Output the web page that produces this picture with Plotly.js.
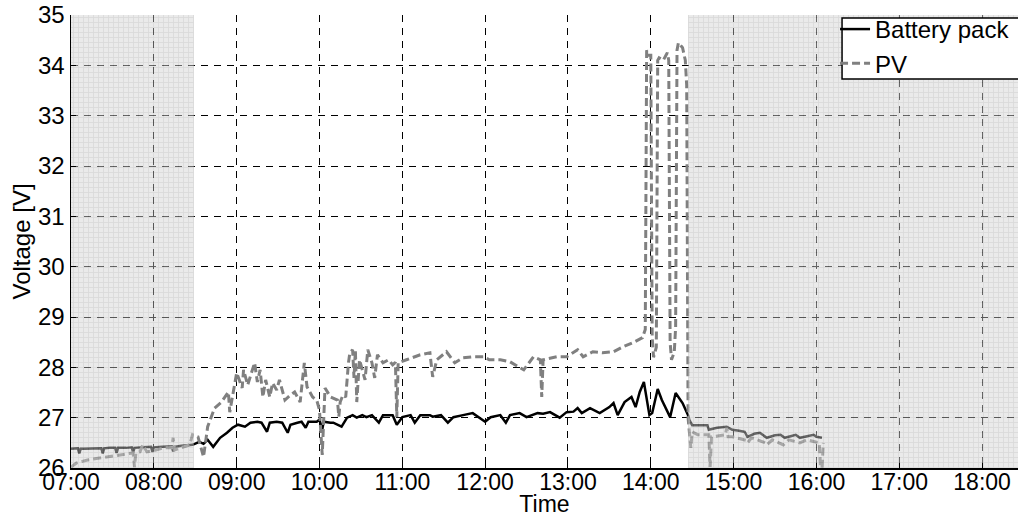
<!DOCTYPE html>
<html><head><meta charset="utf-8">
<script src="https://cdn.plot.ly/plotly-3.0.1.min.js"></script>
<style>html,body{margin:0;padding:0;background:#fff}</style>
</head><body>
<div id="chart" style="width:1018px;height:517px"></div>
<script>
const DAY = '2015-06-01 ';

const batteryTimes = ['07:00','07:05','07:06','07:07','07:10','07:15','07:20','07:22','07:23','07:24','07:28','07:32','07:33','07:34','07:40','07:44','07:45','07:46','07:52','07:58','07:59','08:00','08:06','08:13','08:14','08:15','08:20','08:25','08:28',
 '08:33','08:36','08:39','08:43','08:48','08:53','08:57','09:01','09:06','09:10','09:15','09:18','09:22','09:24','09:29','09:33','09:37','09:39','09:44','09:47','09:50','09:52','09:58','10:00','10:02','10:03','10:08','10:10','10:16','10:20','10:24','10:27','10:31','10:34','10:38','10:43','10:46','10:53','10:56','11:00','11:06','11:09','11:13','11:20','11:22','11:28','11:33','11:37','11:44','11:51','12:00','12:04','12:11','12:15','12:18','12:25','12:30','12:38','12:42','12:47','12:54','12:59','13:04','13:07','13:10','13:16','13:23','13:30','13:33','13:36','13:41','13:46','13:49','13:52','13:55','13:59','14:01','14:05','14:08','14:14','14:18','14:23','14:27',
 '14:28','14:30','14:35','14:41','14:42','14:48','14:55','14:59','15:04','15:08','15:10','15:15','15:19','15:24','15:30','15:34','15:37','15:42','15:45','15:48','15:54','15:58','16:00','16:04'];
const batteryVolts = [26.38,26.39,26.29,26.38,26.38,26.39,26.39,26.39,26.29,26.39,26.4,26.4,26.3,26.4,26.4,26.41,26.31,26.4,26.41,26.42,26.32,26.41,26.42,26.43,26.33,26.42,26.44,26.45,26.46,
 26.52,26.48,26.56,26.42,26.6,26.7,26.8,26.86,26.82,26.9,26.92,26.9,26.72,26.9,26.92,26.9,26.7,26.86,26.9,26.92,26.8,26.92,26.92,26.96,26.76,26.92,26.9,26.9,26.82,27.0,27.05,27.0,27.05,27.01,27.05,26.9,27.05,27.05,26.86,27.01,27.05,26.9,27.05,27.05,27.02,27.05,26.9,27.01,27.05,27.09,26.92,27.01,27.05,26.9,27.05,27.09,27.01,27.09,27.08,27.11,27.0,27.11,27.12,27.19,27.09,27.19,27.09,27.21,27.29,27.05,27.31,27.41,27.21,27.51,27.71,27.05,27.09,27.57,27.35,27.01,27.49,27.29,27.05,
 26.95,26.85,26.85,26.85,26.76,26.8,26.82,26.76,26.74,26.72,26.62,26.68,26.7,26.6,26.65,26.66,26.6,26.64,26.66,26.6,26.64,26.66,26.62,26.6];

const pvTimes = ['07:00','07:04','07:12','07:21','07:28','07:36','07:45','07:46','07:47','07:48','07:50','07:52','07:55','08:02','08:07','08:13','08:14','08:15','08:21','08:26','08:28',
 '08:32','08:36','08:39','08:44','08:49','08:54','08:55','09:00','09:04','09:05','09:08','09:13','09:15','09:17','09:19','09:21','09:24','09:26','09:29','09:31','09:35','09:39','09:42','09:46','09:49','09:51','09:55','09:58','10:00','10:02','10:04','10:08','10:13','10:14','10:15','10:17','10:19','10:21','10:22','10:24','10:25','10:26','10:27','10:29','10:33','10:35','10:38','10:40','10:42','10:46','10:50','10:53','10:55','10:56','10:57','11:03','11:13','11:20','11:22','11:25','11:32','11:38','11:44','11:51','11:59','12:03','12:11','12:18','12:28','12:35','12:40','12:41','12:42','12:52','12:59','13:07','13:11','13:18','13:25','13:33','13:40','13:47','13:54','13:56',
 '13:57','13:58','14:00','14:01','14:02','14:04','14:05','14:06','14:09','14:11','14:12','14:13','14:14','14:15','14:17','14:18','14:19','14:20','14:23','14:25','14:26','14:27',
 '14:28','14:29','14:30','14:34','14:42','14:43','14:44','14:54','14:55','14:56','14:59','15:09','15:10','15:13','15:23','15:24','15:28','15:35','15:36','15:40','15:47','15:48','15:53','16:00','16:02','16:03','16:04','16:05'];
const pvVolts = [26.02,26.1,26.16,26.2,26.22,26.26,26.3,26.02,26.3,26.3,26.32,26.46,26.32,26.36,26.4,26.4,26.6,26.36,26.42,26.46,26.66,
 26.62,26.22,26.82,27.19,27.31,27.51,27.11,27.89,27.59,27.95,27.65,28.09,27.71,27.95,27.41,27.75,27.41,27.69,27.55,27.75,27.35,27.45,27.51,27.31,28.09,27.61,27.41,27.35,27.15,26.26,27.59,27.41,27.35,27.02,27.31,27.45,27.41,28.09,28.29,28.35,27.79,28.35,27.31,28.15,27.75,28.35,28.09,27.79,28.25,28.09,28.15,28.05,28.1,27.01,28.09,28.15,28.25,28.29,27.81,28.15,28.31,28.09,28.19,28.21,28.21,28.15,28.15,28.11,27.95,28.21,28.15,27.41,28.15,28.21,28.21,28.35,28.21,28.31,28.29,28.31,28.41,28.49,28.59,28.75,
 34.3,34.2,34.2,28.6,28.2,28.4,34.1,34.15,34.1,34.2,34.25,34.1,28.5,28.15,28.3,28.8,34.3,34.45,34.35,34.1,33.6,27.0,
 26.6,26.4,26.72,26.66,26.66,26.02,26.62,26.66,26.8,26.62,26.62,26.55,26.5,26.6,26.5,26.46,26.56,26.48,26.46,26.56,26.5,26.5,26.56,26.52,26.5,26.02,26.0,26.5];

const shadeStart = ['07:00','14:27'];
const shadeEnd   = ['08:29','18:30'];
const hourTicks = ['07:00','08:00','09:00','10:00','11:00','12:00','13:00','14:00','15:00','16:00','17:00','18:00'];

const ms = t => Date.parse('2015-06-01T' + t + ':00Z');
const FONT = 'Liberation Sans, Arial, Helvetica, sans-serif';
const DASH = '7px,6px';

const traces = [
  {x: batteryTimes.map(t => DAY + t), y: batteryVolts, type: 'scatter', mode: 'lines', name: 'Battery pack',
   line: {color: '#000000', width: 2.5}, hoverinfo: 'skip'},
  {x: pvTimes.map(t => DAY + t), y: pvVolts, type: 'scatter', mode: 'lines', name: 'PV',
   line: {color: '#808080', width: 3, dash: '8px,4px'}, hoverinfo: 'skip'},
  {type: 'bar', orientation: 'h', xaxis: 'x', yaxis: 'y2', showlegend: false, hoverinfo: 'skip',
   base: shadeStart.map(t => DAY + t),
   x: shadeStart.map((s, i) => ms(shadeEnd[i]) - ms(s)),
   y: shadeStart.map(() => 30.5), width: shadeStart.map(() => 9),
   marker: {color: 'rgb(212,212,212)', opacity: 0.48, line: {width: 0},
     pattern: {shape: '+', size: 5, solidity: 0.3, fgcolor: 'rgb(175,175,175)', bgcolor: 'rgb(212,212,212)', fillmode: 'replace'}}}
];

const layout = {
  width: 1018, height: 517,
  margin: {l: 71, r: 0, t: 15, b: 49, autoexpand: false},
  paper_bgcolor: '#ffffff', plot_bgcolor: '#ffffff',
  font: {family: FONT, size: 24, color: '#000000'},
  showlegend: true,
  bargap: 0,
  xaxis: {type: 'date', range: [DAY + '07:00', DAY + '18:26'],
    tickvals: hourTicks.map(t => DAY + t), tickformat: '%H:%M',
    showgrid: true, gridcolor: '#000000', gridwidth: 1, griddash: DASH,
    showline: true, linecolor: '#000000', linewidth: 1.5,
    ticks: 'inside', ticklen: 5, tickcolor: '#000000', ticklabelstandoff: -7,
    tickfont: {size: 23}, title: {text: 'Time', font: {size: 23}, standoff: 10},
    zeroline: false, fixedrange: true},
  yaxis: {range: [26, 35], dtick: 1, tick0: 26,
    showgrid: true, gridcolor: '#000000', gridwidth: 1, griddash: DASH,
    showline: true, linecolor: '#000000', linewidth: 1.5,
    ticks: 'inside', ticklen: 5, tickcolor: '#000000',
    tickfont: {size: 24}, title: {text: 'Voltage [V]', font: {size: 24}, standoff: 0},
    zeroline: false, fixedrange: true},
  yaxis2: {overlaying: 'y', range: [26, 35], visible: false, fixedrange: true},
  shapes: [{type: 'rect', xref: 'paper', yref: 'paper', layer: 'above',
    x0: 0.8142, x1: 1.02, y0: 0.8587, y1: 0.9934,
    line: {color: '#000000', width: 1.5}, fillcolor: '#ffffff'}],
  legend: {x: 0.8068, xanchor: 'left', y: 1.0177, yanchor: 'top',
    bgcolor: 'rgba(0,0,0,0)', borderwidth: 0,
    font: {size: 24}, tracegroupgap: 0, itemwidth: 30}
};

Plotly.newPlot('chart', traces, layout, {displayModeBar: false, staticPlot: true});
</script>
</body></html>
